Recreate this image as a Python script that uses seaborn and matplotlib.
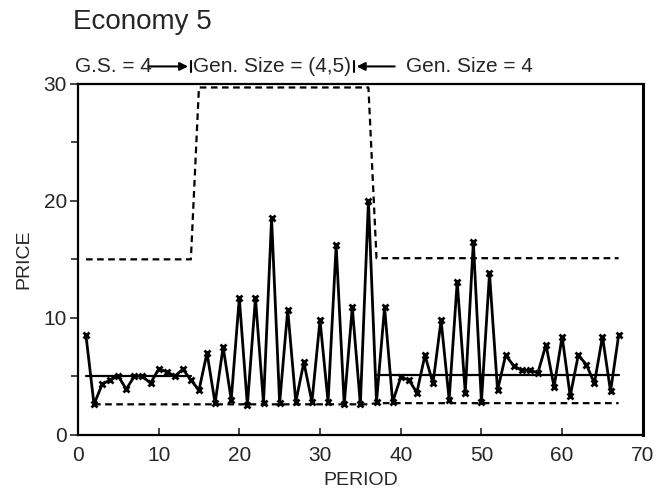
import pandas as pd
import seaborn as sns
import matplotlib.pyplot as plt

PERIODS = list(range(1, 68))
PRICE = [8.5, 2.6, 4.3, 4.7, 5.0, 3.9, 5.0, 5.0, 4.4, 5.6,
         5.4, 5.0, 5.6, 4.7, 3.8, 7.0, 2.7, 7.5, 3.0, 11.7,
         2.5, 11.7, 2.7, 18.5, 2.7, 10.7, 2.8, 6.2, 2.8, 9.8,
         2.8, 16.2, 2.6, 10.9, 2.6, 20.0, 2.8, 10.9, 2.8, 4.9,
         4.7, 3.6, 6.8, 4.4, 9.8, 3.0, 13.1, 3.6, 16.5, 2.8,
         13.8, 3.8, 6.8, 5.9, 5.5, 5.5, 5.3, 7.7, 4.1, 8.4,
         3.3, 6.8, 6.0, 4.4, 8.4, 3.7, 8.5]

UPPER_PERIODS = [1, 14, 15, 36, 37, 67]
UPPER_VALUES = [15.0, 15.0, 29.7, 29.7, 15.1, 15.1]
LOWER_PERIODS = [2, 36, 37, 67]
LOWER_VALUES = [2.6, 2.6, 2.7, 2.7]
EQ1_PERIODS = [1, 14]
EQ1_VALUES = [5.0, 5.0]
EQ2_PERIODS = [37, 67]
EQ2_VALUES = [5.15, 5.15]

sns.set_style("ticks")
plt.rcParams["font.family"] = ["Liberation Sans", "DejaVu Sans"]

price_df = pd.DataFrame({"PERIOD": PERIODS, "PRICE": PRICE})

fig = plt.figure(figsize=(6.6, 4.94), dpi=100)
ax = fig.add_axes([0.118, 0.12, 0.856, 0.71])

dash = (3, 2)
sns.lineplot(x=UPPER_PERIODS, y=UPPER_VALUES, ax=ax, color="black",
             lw=1.6, sort=False, estimator=None).lines[-1].set_dashes(dash)
sns.lineplot(x=LOWER_PERIODS, y=LOWER_VALUES, ax=ax, color="black",
             lw=1.6, sort=False, estimator=None).lines[-1].set_dashes(dash)
sns.lineplot(x=EQ1_PERIODS, y=EQ1_VALUES, ax=ax, color="black", lw=1.6,
             sort=False, estimator=None)
sns.lineplot(x=EQ2_PERIODS, y=EQ2_VALUES, ax=ax, color="black", lw=1.6,
             sort=False, estimator=None)
sns.lineplot(data=price_df, x="PERIOD", y="PRICE", ax=ax, color="black",
             lw=2.0, marker="x", markersize=5, markeredgewidth=2,
             markeredgecolor="black", sort=False, estimator=None)

ax.set_xlim(0, 70)
ax.set_ylim(0, 30)
ax.set_xticks(range(0, 71, 10))
ax.set_yticks([0, 10, 20, 30])
ax.set_yticks([5, 15, 25], minor=True)
ax.tick_params(axis="x", direction="in", length=5, width=1.2, labelsize=15, pad=8)
ax.tick_params(axis="y", direction="out", length=6, width=1.2, labelsize=15, pad=2)
ax.tick_params(axis="y", which="minor", direction="out", length=5, width=1.2)
for s in ax.spines.values():
    s.set_linewidth(1.6)
    s.set_color("black")
ax.spines["right"].set_linewidth(2.2)

ax.set_xlabel("PERIOD", fontsize=14, labelpad=5)
ax.set_ylabel("PRICE", fontsize=14, labelpad=8)

# regime labels above the plot
ty = 31.5
ax.text(-0.3, ty, "G.S. = 4", fontsize=15, va="center", ha="left", clip_on=False)
ax.annotate("", xy=(14, ty), xytext=(8.4, ty), annotation_clip=False,
            arrowprops=dict(arrowstyle="-|>", color="black", lw=1.5, mutation_scale=12))
ax.plot([14, 14], [ty - 0.5, ty + 0.5], color="black", lw=1.5, clip_on=False)
ax.text(14.3, ty, "Gen. Size = (4,5)", fontsize=15, va="center", ha="left", clip_on=False)
ax.annotate("", xy=(34.2, ty), xytext=(39.6, ty), annotation_clip=False,
            arrowprops=dict(arrowstyle="-|>", color="black", lw=1.5, mutation_scale=12))
ax.plot([34.2, 34.2], [ty - 0.5, ty + 0.5], color="black", lw=1.5, clip_on=False)
ax.text(40.6, ty, "Gen. Size = 4", fontsize=15, va="center", ha="left", clip_on=False)

fig.text(0.11, 0.955, "Economy 5", fontsize=20, ha="left", va="center")

fig.savefig("out.png", dpi=100)
